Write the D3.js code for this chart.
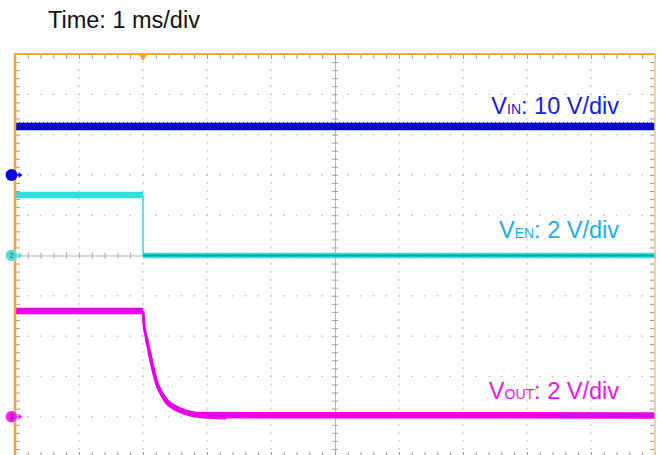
<!DOCTYPE html>
<html><head><meta charset="utf-8">
<script src="https://cdn.jsdelivr.net/npm/d3@7"></script>
<style>html,body{margin:0;padding:0;background:#fff;}svg{display:block;}</style>
</head><body>
<script>
// ---- data ----
const timeTitle = "Time: 1 ms/div";
const timeDomain = [-2, 8];           // ms, 1 ms/div, trigger at 0
const divDomain = [5, -5];            // vertical divisions
// channel settings
const chNames = ["VIN", "VEN", "VOUT"];
const chVoltsPerDiv = [10, 2, 2];
const chOffsetDiv = [2, 0, -4];
const chColors = ["#0808c8", "#30dede", "#e800e8"];
const chLabelColors = ["#1420e6", "#1aaeee", "#f010f0"];
const labelMain = ["V", "V", "V"];
const labelSub = ["IN", "EN", "OUT"];
const labelRest = [": 10 V/div", ": 2 V/div", ": 2 V/div"];
// traces (time ms, volts)
const vinTime = [-2, 8];
const vinVolts = [12, 12];
const venTime = [-2, 0, 0, 8];
const venVolts = [3.0, 3.0, 0, 0];
const voutHighTime = [-2, 0];
const voutHighVolts = [5.25, 5.25];
const voutFallTime = [0, 0.015, 0.05, 0.094, 0.2, 0.36, 0.62, 0.9, 1.3];
const voutFallVolts = [5.25, 4.6, 3.95, 3.3, 1.85, 0.85, 0.33, 0.13, 0.06];
const voutLowTime = [0.9, 8];
const voutLowVolts = [0.08, 0.06];

// ---- layout ----
const W = 661, H = 455;
const FONT = "Liberation Sans, Arial, sans-serif";
const svg = d3.select("body").append("svg").attr("width", W).attr("height", H);
const x = d3.scaleLinear().domain(timeDomain).range([15, 655]);
const yd = d3.scaleLinear().domain(divDomain).range([54, 457]);
const yCh = i => v => yd(v / chVoltsPerDiv[i] + chOffsetDiv[i]);

// grid dots
const majorX = d3.range(timeDomain[0], timeDomain[1] + 0.001, 1);
const minorX = d3.range(timeDomain[0], timeDomain[1] + 0.001, 0.2);
const majorY = d3.range(-5, 5.001, 1);
const minorY = d3.range(-5, 5.001, 0.2);
const g = svg.append("g");
majorY.filter(d => d !== 0 && Math.abs(d) !== 5).forEach(d => {
  g.selectAll(null).data(minorX.slice(1, -1)).enter().append("rect")
    .attr("x", t => x(t) - 1).attr("y", yd(d) - 0.6).attr("width", 2).attr("height", 1.3)
    .attr("fill", "#c8c8c8");
});
majorX.filter(d => d !== 3 && d !== timeDomain[0] && d !== timeDomain[1]).forEach(d => {
  g.selectAll(null).data(minorY.slice(1, -1)).enter().append("rect")
    .attr("x", x(d) - 0.6).attr("y", v => yd(v) - 1).attr("width", 1.3).attr("height", 2)
    .attr("fill", "#c8c8c8");
});
// center axes with ticks
const axCol = "#a8a0a0";
svg.append("g").attr("transform", `translate(0,${yd(0)})`)
  .call(d3.axisBottom(x).tickValues(minorX).tickSize(3).tickFormat(""))
  .call(a => { a.select(".domain").attr("stroke", axCol).attr("stroke-width", 0.8); a.selectAll(".tick line").attr("stroke", axCol); });
svg.append("g").attr("transform", `translate(0,${yd(0)})`)
  .call(d3.axisTop(x).tickValues(minorX).tickSize(3).tickFormat(""))
  .call(a => { a.select(".domain").remove(); a.selectAll(".tick line").attr("stroke", axCol); });
svg.append("g").attr("transform", `translate(${x(3)},0)`)
  .call(d3.axisLeft(yd).tickValues(minorY).tickSize(3).tickFormat(""))
  .call(a => { a.select(".domain").attr("stroke", axCol).attr("stroke-width", 0.8); a.selectAll(".tick line").attr("stroke", axCol); });
svg.append("g").attr("transform", `translate(${x(3)},0)`)
  .call(d3.axisRight(yd).tickValues(minorY).tickSize(3).tickFormat(""))
  .call(a => { a.select(".domain").remove(); a.selectAll(".tick line").attr("stroke", axCol); });

// frame ticks
const tickCol = "#9a9a9a";
svg.append("g").attr("transform", `translate(0,${yd(5)})`)
  .call(d3.axisBottom(x).tickValues(minorX).tickSize(5).tickFormat(""))
  .call(a => { a.select(".domain").remove(); a.selectAll(".tick line").attr("stroke", tickCol); });
svg.append("g").attr("transform", `translate(0,${yd(-5)})`)
  .call(d3.axisTop(x).tickValues(minorX).tickSize(5).tickFormat(""))
  .call(a => { a.select(".domain").remove(); a.selectAll(".tick line").attr("stroke", tickCol); });
svg.append("g").attr("transform", `translate(${x(timeDomain[0])},0)`)
  .call(d3.axisRight(yd).tickValues(minorY).tickSize(5).tickFormat(""))
  .call(a => { a.select(".domain").remove(); a.selectAll(".tick line").attr("stroke", tickCol); });
svg.append("g").attr("transform", `translate(${x(timeDomain[1])},0)`)
  .call(d3.axisLeft(yd).tickValues(minorY).tickSize(5).tickFormat(""))
  .call(a => { a.select(".domain").remove(); a.selectAll(".tick line").attr("stroke", tickCol); });

// traces
const line = (i) => d3.line().x(d => x(d[0])).y(d => yCh(i)(d[1]));
const vinData = d3.zip(vinTime, vinVolts);
const venData = d3.zip(venTime, venVolts);
svg.append("path").datum(vinData).attr("d", line(0)).attr("fill", "none")
  .attr("stroke", chColors[0]).attr("stroke-width", 7.5);
svg.append("path").datum(vinData).attr("d", line(0)).attr("fill", "none")
  .attr("stroke", "#2a2ae0").attr("stroke-width", 1).attr("stroke-dasharray", "1 3").attr("transform", "translate(0,-4)");
// VEN
svg.append("path").datum(venData.slice(0, 2)).attr("d", line(1)).attr("fill", "none")
  .attr("stroke", chColors[1]).attr("stroke-width", 6.5);
svg.append("path").datum(venData.slice(1, 3)).attr("d", line(1)).attr("fill", "none")
  .attr("stroke", chColors[1]).attr("stroke-width", 1.5);
svg.append("path").datum(venData.slice(2)).attr("d", line(1)).attr("fill", "none")
  .attr("stroke", chColors[1]).attr("stroke-width", 5.5);
svg.append("path").datum(venData.slice(2)).attr("d", line(1)).attr("fill", "none")
  .attr("stroke", "#15a0a0").attr("stroke-width", 2.2);
// VOUT
svg.append("path").datum(d3.zip(voutHighTime, voutHighVolts)).attr("d", line(2))
  .attr("fill", "none").attr("stroke", chColors[2]).attr("stroke-width", 6.5);
svg.append("path").datum(d3.zip(voutLowTime, voutLowVolts)).attr("d", line(2))
  .attr("fill", "none").attr("stroke", chColors[2]).attr("stroke-width", 6.5);
const fallLine = d3.line().curve(d3.curveMonotoneX).x(d => x(d[0])).y(d => yCh(2)(d[1]));
const fallData = d3.zip(voutFallTime, voutFallVolts);
[0, 1.2, 2.4].forEach((dy, k) => {
  svg.append("path").datum(fallData.slice(k + 2)).attr("d", fallLine)
    .attr("transform", `translate(0,${dy})`)
    .attr("fill", "none").attr("stroke", chColors[2]).attr("stroke-width", 3.2);
});
svg.append("path").datum(fallData).attr("d", fallLine)
  .attr("fill", "none").attr("stroke", chColors[2]).attr("stroke-width", 3);

// frame (orange)
const orange = "#f3a43a";
svg.append("line").attr("x1", x(timeDomain[0])).attr("x2", x(timeDomain[1])).attr("y1", yd(5)).attr("y2", yd(5))
  .attr("stroke", orange).attr("stroke-width", 2.2);
svg.append("line").attr("x1", x(timeDomain[0])).attr("x2", x(timeDomain[0])).attr("y1", yd(5) - 1).attr("y2", H)
  .attr("stroke", orange).attr("stroke-width", 2.6);
svg.append("line").attr("x1", x(timeDomain[1])).attr("x2", x(timeDomain[1])).attr("y1", yd(5)).attr("y2", H)
  .attr("stroke", "#f2c488").attr("stroke-width", 1.5);
// trigger marker
const tx = x(0), ty = yd(5);
svg.append("path").attr("d", `M${tx - 4.5},${ty} L${tx + 4.5},${ty} L${tx},${ty + 7} Z`).attr("fill", orange);

// channel markers
const markerChars = ["", "2", "3"];
const markerFill = ["#0a0ad8", "#56dada", "#ee22ee"];
[0, 1, 2].forEach(i => {
  const cy = yCh(i)(0), cx = 11.5;
  svg.append("line").attr("x1", cx).attr("x2", cx + 9).attr("y1", cy).attr("y2", cy)
    .attr("stroke", markerFill[i]).attr("stroke-width", 1.5);
  svg.append("path").attr("d", `M${cx + 7},${cy - 3} L${cx + 11},${cy} L${cx + 7},${cy + 3} Z`).attr("fill", markerFill[i]);
  svg.append("circle").attr("cx", cx).attr("cy", cy).attr("r", 6).attr("fill", markerFill[i])
    .attr("stroke", i === 0 ? "none" : "#fff").attr("stroke-opacity", 0.5).attr("stroke-width", 0.8);
  if (markerChars[i]) svg.append("text").attr("x", cx).attr("y", cy + 2.5).attr("text-anchor", "middle")
    .attr("font-family", FONT).attr("font-size", 7.5).attr("fill", i === 1 ? "#1a6a6a" : "#7a007a")
    .text(markerChars[i]);
});

// labels
const labelY = [113.5, 238, 398.5];
[0, 1, 2].forEach(i => {
  const t = svg.append("text").attr("x", 619).attr("y", labelY[i]).attr("text-anchor", "end")
    .attr("font-family", FONT).attr("font-size", 23.5).attr("fill", chLabelColors[i]);
  t.append("tspan").text(labelMain[i]);
  t.append("tspan").attr("font-size", 14).text(labelSub[i]);
  t.append("tspan").text(labelRest[i]);
});

svg.append("text").attr("x", 48).attr("y", 27.5).attr("font-family", FONT)
  .attr("font-size", 23.5).attr("fill", "#111").text(timeTitle);
</script>
</body></html>
